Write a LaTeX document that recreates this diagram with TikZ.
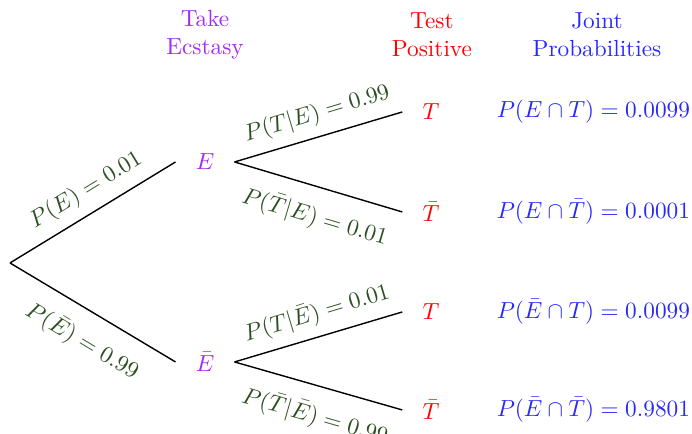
\documentclass[tikz,border=0pt]{standalone}
\usepackage{amsmath,amssymb}
\usepackage{xcolor}
\usetikzlibrary{positioning}

\definecolor{ecstasy}{RGB}{165,40,250}
\definecolor{probgreen}{RGB}{45,80,35}
\definecolor{jointblue}{RGB}{40,40,250}

\begin{document}
\begin{tikzpicture}[
  evt/.style={inner xsep=8.5pt, inner ysep=3pt},
  drug/.style={evt, text=ecstasy},
  test/.style={evt, text=red},
  joint/.style={text=jointblue},
  head/.style={align=center},
  br/.style={semithick, color=black},
  lbl/.style={sloped, pos=0.53, text=probgreen}
]
  \useasboundingbox (0,0) rectangle (10.45,6.553);

  % Column headings
  \node[head, text=ecstasy] (hE) at (3.096,6.025) {Take\\Ecstasy};
  \node[head, text=red] (hT) at (6.523,6.025) {Test\\Positive};
  \node[head, text=jointblue] (hJ) at (9.015,6.025) {Joint\\Probabilities};

  % Tree nodes
  \coordinate (root) at (0.151,2.582);
  \node[drug] (E) at (3.096,4.107) {$E$};
  \node[drug] (Ebar) at (3.096,1.087) {$\bar{E}$};

  \node[test] (T1) at (6.508,4.862) {$T$};
  \node[test] (Tbar1) at (6.508,3.352) {$\bar{T}$};
  \node[test] (T2) at (6.508,1.842) {$T$};
  \node[test] (Tbar2) at (6.508,0.362) {$\bar{T}$};

  % Joint probabilities
  \node[joint] (J1) at (8.96,4.862) {$P(E\cap T)=0.0099$};
  \node[joint] (J2) at (8.96,3.352) {$P(E\cap \bar{T})=0.0001$};
  \node[joint] (J3) at (8.96,1.842) {$P(\bar{E}\cap T)=0.0099$};
  \node[joint] (J4) at (8.96,0.362) {$P(\bar{E}\cap \bar{T})=0.9801$};

  % First branching
  \draw[br] (root) -- (E.west) node[lbl, above=1pt] {$P(E)=0.01$};
  \draw[br] (root) -- (Ebar.west) node[lbl, below=4pt] {$P(\bar{E})=0.99$};

  % Second branching
  \draw[br] (E.east) -- (T1.west) node[lbl, above=1pt] {$P(T|E)=0.99$};
  \draw[br] (E.east) -- (Tbar1.west) node[lbl, below=4pt] {$P(\bar{T}|E)=0.01$};
  \draw[br] (Ebar.east) -- (T2.west) node[lbl, above=1pt] {$P(T|\bar{E})=0.01$};
  \draw[br] (Ebar.east) -- (Tbar2.west) node[lbl, below=4pt] {$P(\bar{T}|\bar{E})=0.99$};
\end{tikzpicture}
\end{document}
